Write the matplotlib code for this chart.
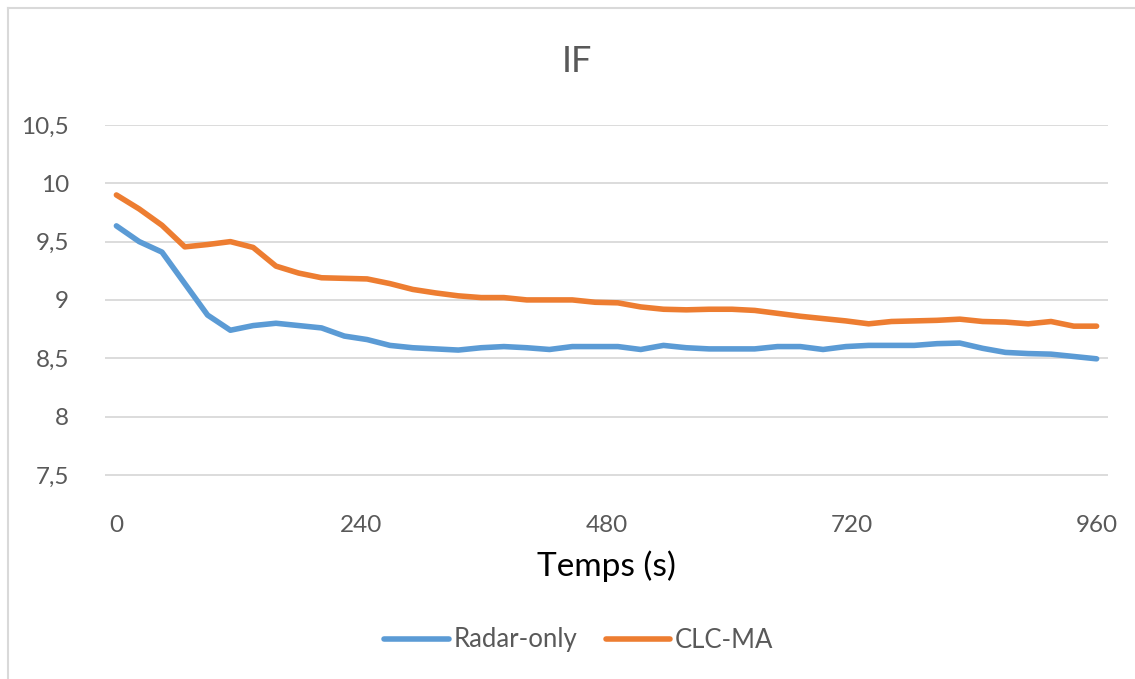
import numpy as np
import matplotlib
matplotlib.use("Agg")
import matplotlib.pyplot as plt
from matplotlib.lines import Line2D
from matplotlib.ticker import FuncFormatter

# 44 samples over 0..960 s (category axis in the original)
temps = np.linspace(0, 960, 44)

radar_only = [9.635, 9.50, 9.41, 9.14, 8.87, 8.74, 8.78, 8.80, 8.78, 8.76,
              8.69, 8.66, 8.61, 8.59, 8.58, 8.57, 8.59, 8.60, 8.59, 8.575,
              8.60, 8.60, 8.60, 8.575, 8.61, 8.59, 8.58, 8.58, 8.58, 8.60,
              8.60, 8.575, 8.60, 8.61, 8.61, 8.61, 8.625, 8.63, 8.585, 8.55,
              8.54, 8.535, 8.515, 8.495]

clc_ma = [9.90, 9.78, 9.64, 9.455, 9.475, 9.50, 9.45, 9.29, 9.23, 9.19,
          9.185, 9.18, 9.14, 9.09, 9.06, 9.035, 9.02, 9.02, 9.00, 9.00,
          9.00, 8.98, 8.975, 8.94, 8.92, 8.915, 8.92, 8.92, 8.91, 8.885,
          8.86, 8.84, 8.82, 8.795, 8.815, 8.82, 8.825, 8.835, 8.815, 8.81,
          8.795, 8.815, 8.775, 8.775]

series_labels = ["Radar-only", "CLC-MA"]
series_colors = ["#5B9BD5", "#ED7D31"]
y_ticks = [7.5, 8, 8.5, 9, 9.5, 10, 10.5]
x_ticks = [0, 240, 480, 720, 960]

plt.rcParams['font.family'] = ['Lato', 'DejaVu Sans']
GREY = "#595959"

W, H = 1135, 679
fig = plt.figure(figsize=(W / 100, H / 100), dpi=100)

step = temps[1] - temps[0]
ax = fig.add_axes([105 / W, 1 - 504 / H, (1108 - 105) / W, (504 - 125) / H])

for vals, lab, col in zip([radar_only, clc_ma], series_labels, series_colors):
    ax.plot(temps, vals, color=col, lw=4, label=lab,
            solid_joinstyle="round", solid_capstyle="round", zorder=3)

ax.set_xlim(temps[0] - step / 2, temps[-1] + step / 2)
ax.set_ylim(7.25, 10.5)
ax.set_yticks(y_ticks)
ax.set_xticks(x_ticks)
ax.yaxis.set_major_formatter(FuncFormatter(lambda v, p: f"{v:g}".replace(".", ",")))
ax.grid(axis="y", color="#d9d9d9", lw=1.3, zorder=0)
ax.tick_params(length=0, labelsize=17.5, colors=GREY)
ax.tick_params(axis="y", pad=26)
ax.tick_params(axis="x", pad=8)
for s in ax.spines.values():
    s.set_visible(False)

ax.set_xlabel("Temps (s)", fontsize=24, color="black", labelpad=10)

fig.text(577 / W, 1 - 62 / H, "IF", ha="center", va="center",
         fontsize=26, color=GREY)

handles = [Line2D([], [], color=c, lw=4, solid_capstyle="round") for c in series_colors]
fig.legend(handles, series_labels, loc="center", bbox_to_anchor=(579 / W, 1 - 640 / H),
           ncol=2, frameon=False, fontsize=18.5, labelcolor=GREY,
           handlelength=2.5, handletextpad=0.2, columnspacing=1.1)

# chart-area border (left and top only visible)
fig.add_artist(Line2D([8 / W, 8 / W], [0, 1 - 8 / H], color="#d9d9d9", lw=1.5,
                      transform=fig.transFigure))
fig.add_artist(Line2D([8 / W, 1], [1 - 8 / H, 1 - 8 / H], color="#d9d9d9", lw=1.5,
                      transform=fig.transFigure))

fig.savefig("out.png", dpi=100)
